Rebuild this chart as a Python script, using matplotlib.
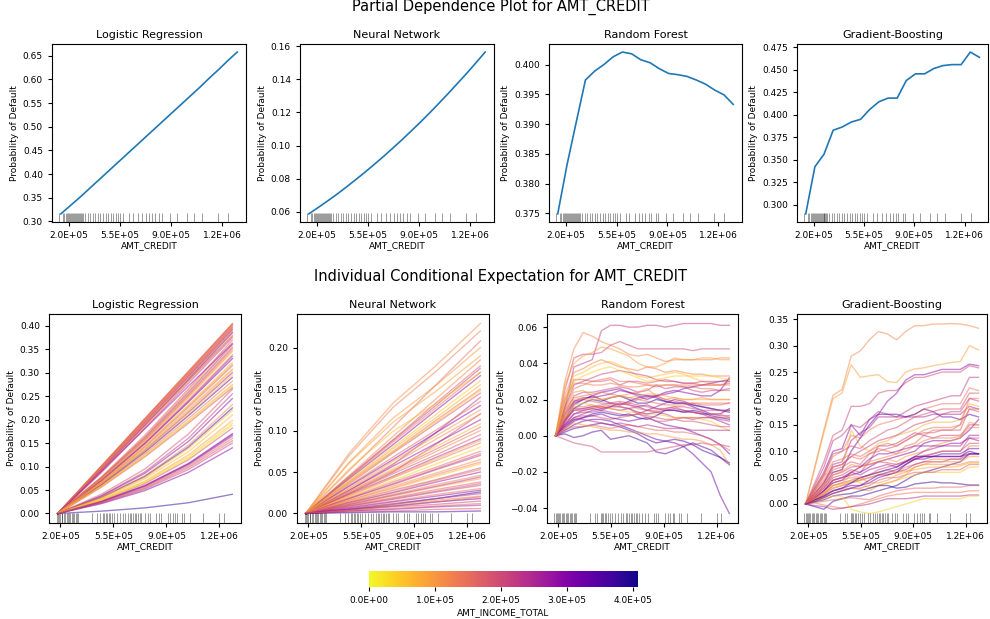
import numpy as np
import matplotlib
matplotlib.use("Agg")
import matplotlib.pyplot as plt
from matplotlib.colors import Normalize
from matplotlib.cm import ScalarMappable
from matplotlib.ticker import FixedLocator, FormatStrFormatter, MultipleLocator

# ---------------- data ----------------
models = ["Logistic Regression", "Neural Network", "Random Forest", "Gradient-Boosting"]

# PDP grid (AMT_CREDIT) and averaged predictions
pdp_grid = [145000, 208600, 272200, 335700, 399300, 462900, 526500, 590100, 653700, 717200,
            780800, 844400, 908000, 971600, 1035200, 1098700, 1162300, 1225900, 1289500, 1353000]
pdp_lr = [0.316, 0.333, 0.350, 0.368, 0.386, 0.404, 0.422, 0.440, 0.458, 0.476,
          0.494, 0.512, 0.530, 0.548, 0.566, 0.584, 0.603, 0.621, 0.640, 0.658]
pdp_nn = [0.0588, 0.0626, 0.0665, 0.0705, 0.0748, 0.0792, 0.0837, 0.0884, 0.0932, 0.0982,
          0.1033, 0.1086, 0.1140, 0.1196, 0.1254, 0.1313, 0.1374, 0.1435, 0.1499, 0.1564]
pdp_rf = [0.3749, 0.3831, 0.3903, 0.3974, 0.3989, 0.4000, 0.4013, 0.4021, 0.4018, 0.4008,
          0.4003, 0.3993, 0.3985, 0.3983, 0.3980, 0.3974, 0.3967, 0.3957, 0.3949, 0.3933]
pdp_gb = [0.2896, 0.3421, 0.3561, 0.3827, 0.3864, 0.3919, 0.3949, 0.4059, 0.4144, 0.4185,
          0.4185, 0.4381, 0.4455, 0.4455, 0.4514, 0.4547, 0.4558, 0.4558, 0.4698, 0.4639]

# rug of sampled AMT_CREDIT values (top row / bottom row)
rug_top = [131e3, 159e3, 169e3, 179e3, 186e3, 193e3, 200e3, 207e3, 214e3, 221e3, 227e3, 234e3,
           241e3, 248e3, 255e3, 262e3, 269e3, 275e3, 282e3, 289e3, 296e3, 310e3, 330e3, 344e3,
           365e3, 378e3, 399e3, 413e3, 433e3, 454e3, 468e3, 488e3, 502e3, 523e3, 536e3, 550e3,
           571e3, 612e3, 639e3, 674e3, 701e3, 728e3, 749e3, 770e3, 790e3, 818e3, 838e3, 893e3,
           941e3, 1010e3, 1058e3, 1113e3, 1223e3, 1291e3]
rug_bot = [174e3, 182e3, 191e3, 200e3, 207e3, 213e3, 222e3, 231e3, 240e3, 248e3, 257e3, 266e3,
           275e3, 284e3, 292e3, 301e3, 310e3, 319e3, 409e3, 442e3, 459e3, 481e3, 490e3, 499e3,
           508e3, 519e3, 530e3, 543e3, 556e3, 574e3, 595e3, 613e3, 628e3, 646e3, 657e3, 668e3,
           679e3, 690e3, 701e3, 712e3, 723e3, 732e3, 756e3, 778e3, 793e3, 833e3, 848e3, 864e3,
           907e3, 925e3, 943e3, 958e3, 969e3, 1002e3, 1013e3, 1057e3, 1144e3, 1250e3, 1281e3]

# ICE grids
ice_grid = [182000, 242700, 303400, 364100, 424700, 485400, 546100, 606800, 667500, 728200,
            788800, 849500, 910200, 970900, 1031600, 1092300, 1152900, 1213600, 1274300, 1335000]
ice_grid_smooth = [182000, 470250, 758500, 1046750, 1335000]

# Logistic regression ICE (centered), one row per sample
ice_lr = [
    [0, 0.101, 0.203, 0.304, 0.405], [0, 0.101, 0.202, 0.303, 0.404], [0, 0.101, 0.202, 0.302, 0.403],
    [0, 0.100, 0.201, 0.301, 0.402], [0, 0.099, 0.199, 0.299, 0.400], [0, 0.098, 0.197, 0.297, 0.398],
    [0, 0.096, 0.195, 0.294, 0.395], [0, 0.095, 0.193, 0.292, 0.392], [0, 0.093, 0.190, 0.288, 0.388],
    [0, 0.091, 0.188, 0.286, 0.385], [0, 0.089, 0.185, 0.282, 0.380], [0, 0.087, 0.182, 0.278, 0.375],
    [0, 0.078, 0.167, 0.266, 0.370], [0, 0.077, 0.164, 0.263, 0.365], [0, 0.076, 0.162, 0.259, 0.360],
    [0, 0.074, 0.158, 0.253, 0.352], [0, 0.072, 0.155, 0.248, 0.345], [0, 0.071, 0.152, 0.243, 0.338],
    [0, 0.069, 0.149, 0.238, 0.330], [0, 0.068, 0.145, 0.232, 0.322], [0, 0.066, 0.142, 0.227, 0.315],
    [0, 0.065, 0.139, 0.222, 0.308], [0, 0.063, 0.135, 0.216, 0.300], [0, 0.062, 0.133, 0.212, 0.295],
    [0, 0.061, 0.131, 0.209, 0.290], [0, 0.059, 0.127, 0.203, 0.282], [0, 0.058, 0.124, 0.198, 0.275],
    [0, 0.056, 0.121, 0.193, 0.268], [0, 0.038, 0.089, 0.161, 0.255], [0, 0.037, 0.086, 0.154, 0.245],
    [0, 0.035, 0.081, 0.146, 0.232], [0, 0.034, 0.079, 0.142, 0.225], [0, 0.032, 0.074, 0.132, 0.210],
    [0, 0.030, 0.069, 0.125, 0.198], [0, 0.029, 0.067, 0.121, 0.192], [0, 0.027, 0.064, 0.115, 0.182],
    [0, 0.026, 0.060, 0.107, 0.170], [0, 0.025, 0.058, 0.104, 0.165], [0, 0.024, 0.056, 0.101, 0.160],
    [0, 0.023, 0.054, 0.098, 0.155], [0, 0.021, 0.049, 0.088, 0.140], [0, 0.005, 0.012, 0.023, 0.041],
    [0, 0.099, 0.198, 0.297, 0.396], [0, 0.097, 0.194, 0.291, 0.388], [0, 0.094, 0.189, 0.284, 0.378],
    [0, 0.090, 0.181, 0.272, 0.362], [0, 0.075, 0.160, 0.255, 0.355], [0, 0.073, 0.156, 0.250, 0.348],
    [0, 0.070, 0.150, 0.240, 0.335], [0, 0.067, 0.144, 0.230, 0.318], [0, 0.064, 0.137, 0.219, 0.305],
    [0, 0.057, 0.122, 0.196, 0.272], [0, 0.041, 0.095, 0.170, 0.265], [0, 0.033, 0.077, 0.139, 0.220],
    [0, 0.028, 0.066, 0.118, 0.188], [0, 0.025, 0.059, 0.106, 0.168], [0, 0.022, 0.052, 0.094, 0.150],
]
inc_lr = [140e3, 160e3, 120e3, 175e3, 110e3, 195e3, 150e3, 280e3, 130e3, 300e3, 105e3, 220e3,
          180e3, 90e3, 250e3, 200e3, 80e3, 150e3, 320e3, 60e3, 170e3, 100e3, 260e3, 50e3,
          340e3, 140e3, 70e3, 190e3, 220e3, 290e3, 120e3, 360e3, 60e3, 90e3, 40e3, 200e3,
          310e3, 250e3, 160e3, 180e3, 300e3, 380e3,
          145e3, 125e3, 165e3, 270e3, 135e3, 115e3, 240e3, 95e3, 75e3, 55e3, 185e3, 65e3,
          30e3, 260e3, 210e3]

# Neural network ICE (centered)
ice_nn = [
    [0, 0.073, 0.133, 0.179, 0.229], [0, 0.070, 0.128, 0.172, 0.220], [0, 0.052, 0.104, 0.156, 0.208],
    [0, 0.061, 0.110, 0.148, 0.190], [0, 0.046, 0.093, 0.139, 0.185], [0, 0.045, 0.089, 0.134, 0.178],
    [0, 0.044, 0.088, 0.131, 0.175], [0, 0.054, 0.099, 0.133, 0.170], [0, 0.042, 0.083, 0.125, 0.166],
    [0, 0.040, 0.080, 0.120, 0.160], [0, 0.039, 0.078, 0.116, 0.155], [0, 0.038, 0.075, 0.113, 0.150],
    [0, 0.036, 0.073, 0.109, 0.145], [0, 0.028, 0.059, 0.098, 0.140], [0, 0.034, 0.068, 0.101, 0.135],
    [0, 0.033, 0.065, 0.098, 0.130], [0, 0.031, 0.063, 0.094, 0.125], [0, 0.024, 0.050, 0.084, 0.120],
    [0, 0.028, 0.057, 0.085, 0.113], [0, 0.027, 0.054, 0.081, 0.108], [0, 0.025, 0.050, 0.075, 0.100],
    [0, 0.024, 0.048, 0.071, 0.095], [0, 0.023, 0.045, 0.068, 0.090], [0, 0.021, 0.043, 0.064, 0.085],
    [0, 0.020, 0.040, 0.060, 0.080], [0, 0.019, 0.038, 0.056, 0.075], [0, 0.018, 0.035, 0.053, 0.070],
    [0, 0.016, 0.033, 0.049, 0.065], [0, 0.015, 0.030, 0.045, 0.060], [0, 0.014, 0.028, 0.041, 0.055],
    [0, 0.013, 0.025, 0.038, 0.050], [0, 0.012, 0.023, 0.035, 0.046], [0, 0.011, 0.021, 0.032, 0.042],
    [0, 0.010, 0.019, 0.029, 0.038], [0, 0.009, 0.017, 0.026, 0.034], [0, 0.008, 0.015, 0.023, 0.030],
    [0, 0.005, 0.011, 0.018, 0.026], [0, 0.006, 0.012, 0.018, 0.024], [0, 0.005, 0.011, 0.016, 0.021],
    [0, 0.005, 0.009, 0.014, 0.018], [0, 0.004, 0.008, 0.011, 0.015], [0, 0.003, 0.006, 0.009, 0.012],
    [0, 0.003, 0.005, 0.008, 0.010], [0, 0.002, 0.003, 0.005, 0.006], [0, 0.001, 0.002, 0.002, 0.003],
    [0, 0.062, 0.115, 0.155, 0.200], [0, 0.043, 0.086, 0.128, 0.170], [0, 0.037, 0.074, 0.111, 0.148],
    [0, 0.030, 0.060, 0.090, 0.120], [0, 0.026, 0.052, 0.078, 0.104], [0, 0.022, 0.044, 0.066, 0.088],
    [0, 0.018, 0.036, 0.054, 0.072], [0, 0.016, 0.031, 0.047, 0.062], [0, 0.013, 0.026, 0.040, 0.053],
    [0, 0.011, 0.022, 0.033, 0.044], [0, 0.009, 0.018, 0.027, 0.036], [0, 0.007, 0.014, 0.021, 0.028],
    [0, 0.004, 0.009, 0.014, 0.020],
]
inc_nn = [110e3, 130e3, 150e3, 90e3, 120e3, 170e3, 210e3, 60e3, 290e3, 50e3, 80e3, 140e3,
          190e3, 230e3, 160e3, 300e3, 100e3, 200e3, 280e3, 70e3, 120e3, 180e3, 250e3, 140e3,
          40e3, 160e3, 220e3, 110e3, 60e3, 190e3, 270e3, 130e3, 90e3, 170e3, 210e3, 150e3,
          380e3, 240e3, 120e3, 320e3, 200e3, 160e3, 260e3, 180e3, 360e3,
          100e3, 140e3, 60e3, 110e3, 170e3, 90e3, 200e3, 130e3, 150e3, 230e3, 190e3, 280e3,
          170e3]

# Random forest ICE (centered, in 1e-3 probability units)
ice_rf_milli = [
    [0, 15, 38, 40, 42, 58, 61, 61, 60, 60, 61, 61, 60, 61, 62, 62, 62, 62, 61, 61],
    [0, 30, 48, 57, 55, 52, 50, 48, 45, 44, 45, 43, 41, 42, 42, 42, 42, 42, 43, 43],
    [0, 25, 43, 45, 45, 46, 50, 52, 50, 48, 48, 48, 48, 48, 48, 47, 48, 48, 48, 48],
    [0, 28, 40, 44, 46, 49, 48, 46, 44, 40, 38, 38, 40, 43, 42, 42, 43, 43, 42, 42],
    [0, 22, 35, 37, 40, 42, 40, 38, 37, 36, 38, 37, 35, 36, 35, 34, 34, 33, 33, 33],
    [0, 20, 33, 35, 38, 40, 41, 39, 36, 33, 32, 33, 34, 35, 34, 32, 30, 29, 28, 30],
    [0, 18, 31, 31, 30, 30, 31, 28, 30, 30, 29, 30, 31, 30, 29, 29, 28, 28, 28, 29],
    [0, 15, 26, 28, 30, 31, 32, 30, 30, 29, 28, 27, 28, 28, 27, 27, 26, 26, 25, 25],
    [0, 10, 18, 20, 22, 24, 25, 26, 24, 23, 22, 22, 24, 25, 24, 23, 22, 22, 25, 32],
    [0, 12, 22, 24, 24, 25, 26, 27, 26, 24, 25, 28, 26, 27, 27, 25, 24, 25, 25, 26],
    [0, 8, 15, 18, 20, 19, 21, 22, 20, 18, 18, 20, 19, 18, 18, 17, 16, 15, 14, 13],
    [0, 9, 17, 20, 22, 20, 18, 17, 19, 21, 22, 21, 19, 18, 18, 16, 14, 12, 12, 15],
    [0, 14, 24, 25, 22, 20, 21, 22, 23, 24, 26, 22, 20, 21, 20, 20, 21, 20, 20, 20],
    [0, 10, 19, 20, 19, 18, 18, 17, 18, 20, 21, 22, 20, 19, 18, 18, 17, 17, 17, 18],
    [0, 6, 12, 14, 15, 14, 16, 18, 17, 16, 14, 16, 18, 20, 19, 17, 16, 15, 14, 14],
    [0, 8, 14, 15, 16, 16, 15, 14, 15, 16, 17, 15, 14, 14, 13, 13, 12, 12, 11, 11],
    [0, 9, 16, 16, 17, 15, 16, 18, 17, 15, 14, 14, 15, 16, 14, 13, 12, 12, 12, 10],
    [0, 7, 12, 13, 13, 14, 13, 12, 11, 12, 14, 13, 12, 10, 10, 9, 10, 10, 9, 8],
    [0, 10, 17, 18, 17, 16, 15, 14, 13, 13, 12, 12, 11, 10, 10, 10, 9, 8, 5, 3],
    [0, 4, 8, 10, 12, 13, 12, 11, 12, 10, 9, 11, 14, 14, 13, 14, 13, 11, 10, 9],
    [0, 6, 10, 11, 11, 10, 9, 10, 11, 12, 11, 10, 9, 9, 8, 8, 7, 6, 5, 5],
    [0, 5, 9, 10, 11, 12, 10, 9, 8, 9, 10, 8, 6, 5, 4, 2, 0, -2, -5, -10],
    [0, 2, 4, 5, 6, 7, 6, 5, 3, 1, -2, -4, -3, -2, -3, -5, -8, -10, -12, -15],
    [0, 3, 6, 8, 9, 9, 8, 6, 4, 2, 0, -2, -3, -4, -6, -10, -15, -20, -33, -43],
    [0, 1, -1, 0, 2, 3, -2, -1, 0, -2, -4, -9, -10, -8, -6, -4, -6, -8, -12, -16],
    [0, -2, -4, -5, -6, -9, -9, -9, -9, -9, -9, -8, -7, -6, -5, -5, -4, -5, -5, -6],
    [0, 3, 5, 5, 6, 5, 4, 5, 6, 5, 4, 3, 3, 2, 2, 1, 0, -2, -5, -8],
    [0, 5, 9, 9, 8, 7, 6, 7, 6, 5, 6, 5, 4, 4, 4, 3, 3, 3, 3, 3],
    [0, 4, 7, 6, 5, 4, 3, 3, 2, 2, 1, 1, 0, -1, -2, -2, -3, -5, -8, -16],
    [0, 12, 19, 21, 21, 22, 23, 25, 24, 22, 20, 22, 23, 24, 26, 27, 28, 29, 30, 31],
    [0, 20, 29, 29, 28, 28, 29, 28, 27, 27, 28, 28, 28, 28, 28, 28, 28, 28, 28, 28],
    [0, 16, 28, 30, 32, 34, 35, 36, 35, 34, 33, 31, 30, 30, 29, 29, 30, 30, 30, 30],
    [0, 12, 20, 21, 20, 20, 21, 22, 21, 22, 23, 23, 22, 21, 20, 20, 20, 20, 20, 20],
    [0, 8, 15, 15, 16, 17, 18, 19, 18, 17, 16, 15, 15, 16, 16, 15, 14, 14, 14, 14],
    [0, 6, 10, 12, 14, 15, 16, 16, 15, 13, 12, 13, 14, 15, 14, 13, 12, 10, 8, 6],
    [0, 14, 21, 22, 23, 24, 23, 22, 21, 20, 19, 18, 17, 17, 17, 18, 18, 18, 18, 18],
    [0, 18, 30, 33, 35, 37, 38, 36, 34, 32, 30, 31, 32, 33, 33, 33, 33, 33, 32, 31],
    [0, 9, 14, 14, 15, 16, 17, 16, 15, 12, 10, 8, 8, 9, 10, 10, 10, 10, 10, 10],
]
inc_rf = [220e3, 120e3, 200e3, 90e3, 130e3, 60e3, 180e3, 150e3, 300e3, 210e3, 380e3, 330e3,
          110e3, 170e3, 280e3, 250e3, 140e3, 230e3, 50e3, 370e3, 190e3, 310e3, 360e3, 320e3,
          350e3, 200e3, 160e3, 240e3, 100e3, 290e3, 130e3, 210e3, 80e3, 200e3, 260e3, 150e3,
          40e3, 180e3]

# Gradient boosting ICE (centered, in 1e-3 probability units)
ice_gb_milli = [
    [0, 70, 140, 206, 217, 280, 290, 311, 327, 322, 311, 327, 338, 338, 341, 341, 342, 341, 338, 333],
    [0, 68, 135, 200, 210, 264, 240, 243, 245, 232, 230, 250, 256, 258, 262, 265, 268, 270, 300, 292],
    [0, 40, 80, 130, 140, 185, 185, 190, 210, 215, 215, 230, 240, 240, 245, 250, 250, 250, 262, 258],
    [0, 30, 60, 100, 105, 150, 130, 160, 170, 195, 210, 235, 245, 245, 250, 255, 255, 255, 265, 262],
    [0, 35, 70, 120, 130, 150, 145, 160, 175, 170, 165, 175, 185, 190, 195, 200, 205, 205, 240, 240],
    [0, 25, 55, 90, 100, 130, 125, 140, 150, 155, 160, 165, 170, 180, 185, 190, 190, 190, 220, 215],
    [0, 20, 40, 75, 80, 120, 135, 145, 165, 165, 165, 165, 165, 165, 170, 170, 170, 170, 185, 180],
    [0, 30, 55, 60, 65, 140, 110, 100, 115, 120, 130, 135, 140, 150, 155, 155, 155, 160, 190, 185],
    [0, 15, 35, 60, 65, 100, 125, 150, 170, 170, 170, 165, 170, 180, 175, 165, 165, 160, 170, 165],
    [0, 20, 40, 65, 70, 80, 75, 95, 100, 105, 110, 120, 130, 135, 135, 140, 140, 140, 180, 175],
    [0, 25, 45, 70, 75, 90, 85, 95, 105, 100, 95, 110, 115, 130, 140, 140, 140, 150, 200, 200],
    [0, 15, 30, 50, 55, 65, 60, 80, 110, 110, 115, 125, 135, 130, 125, 130, 130, 130, 150, 150],
    [0, -5, -10, 5, 10, 15, 15, 20, 25, 30, 35, 45, 55, 60, 65, 70, 75, 80, 95, 95],
    [0, 10, 25, 45, 50, 55, 60, 70, 80, 85, 90, 95, 100, 115, 120, 120, 120, 125, 140, 160],
    [0, 15, 30, 45, 50, 60, 70, 75, 80, 85, 80, 90, 95, 100, 110, 115, 120, 125, 155, 150],
    [0, 10, 20, 35, 40, 45, 50, 55, 65, 70, 75, 80, 85, 90, 95, 100, 100, 100, 125, 125],
    [0, 12, 25, 40, 45, 50, 48, 55, 60, 65, 60, 70, 75, 80, 85, 85, 85, 85, 110, 110],
    [0, 8, 18, 30, 35, 40, 45, 50, 55, 55, 60, 65, 75, 80, 80, 80, 85, 85, 95, 95],
    [0, 10, 20, 30, 35, 45, 40, 30, 35, 40, 45, 50, 55, 60, 60, 60, 60, 60, 70, 70],
    [0, 8, 15, 25, 30, 35, 35, 40, 50, 55, 60, 75, 85, 90, 90, 90, 90, 90, 95, 95],
    [0, 5, 12, 20, 25, 30, 30, 35, 45, 50, 50, 55, 60, 60, 60, 65, 65, 65, 75, 75],
    [0, 6, 15, 25, 28, 30, 28, 25, 35, 40, 45, 55, 70, 75, 75, 75, 75, 75, 80, 80],
    [0, 4, 8, 15, 18, 20, 25, 30, 35, 35, 30, 32, 38, 40, 42, 40, 40, 38, 36, 36],
    [0, 3, 5, 8, 10, 12, 10, 8, 15, 20, 25, 28, 30, 30, 30, 32, 32, 32, 35, 35],
    [0, 2, -2, -5, -8, -5, 0, 5, 10, 15, 18, 20, 22, 22, 22, 22, 22, 22, 25, 25],
    [0, -3, -5, -10, -8, -5, -3, 0, 5, 10, 10, 10, 12, 15, 15, 15, 15, 15, 17, 17],
    [0, 5, 10, 15, 15, -10, -15, -18, -15, -10, -5, 0, 5, 10, 10, 10, 10, 10, 15, 15],
    [0, 10, 25, 45, 50, 60, 55, 65, 70, 75, 70, 80, 90, 100, 105, 110, 110, 110, 130, 130],
    [0, 15, 30, 55, 60, 70, 72, 75, 80, 78, 75, 82, 88, 92, 95, 100, 100, 100, 115, 115],
    [0, 18, 35, 55, 62, 75, 70, 80, 85, 90, 95, 100, 110, 120, 125, 125, 125, 128, 145, 145],
    [0, 12, 22, 35, 38, 42, 45, 50, 55, 58, 60, 62, 65, 68, 70, 70, 70, 72, 78, 78],
    [0, 12, 25, 40, 45, 60, 70, 85, 95, 95, 100, 105, 110, 110, 110, 110, 115, 115, 125, 120],
    [0, 20, 40, 70, 75, 90, 100, 110, 120, 125, 130, 140, 150, 155, 160, 170, 175, 175, 200, 195],
    [0, 8, 15, 25, 30, 40, 50, 55, 60, 65, 70, 80, 90, 90, 90, 90, 90, 90, 100, 95],
    [0, 25, 50, 80, 85, 95, 90, 100, 110, 115, 110, 120, 130, 140, 145, 145, 145, 150, 180, 180],
    [0, 30, 55, 95, 100, 110, 105, 120, 130, 140, 145, 155, 165, 170, 175, 180, 180, 180, 210, 210],
    [0, 10, 20, 35, 40, 55, 50, 40, 40, 45, 55, 60, 70, 75, 80, 80, 80, 80, 90, 90],
    [0, 5, 12, 20, 25, 30, 35, 45, 55, 60, 65, 75, 85, 85, 90, 95, 95, 95, 105, 105],
]
inc_gb = [120e3, 90e3, 200e3, 290e3, 220e3, 140e3, 250e3, 70e3, 330e3, 180e3, 150e3, 210e3,
          370e3, 300e3, 100e3, 190e3, 130e3, 230e3, 50e3, 310e3, 170e3, 110e3, 380e3, 160e3,
          140e3, 240e3, 40e3, 260e3, 200e3, 120e3, 80e3, 280e3, 210e3, 360e3, 150e3, 190e3,
          100e3, 320e3]

income_max = 407000
cbar_ticks = [0, 100000, 200000, 300000, 400000]
xticks = [200000, 550000, 900000, 1250000]

# ---------------- figure ----------------
fig = plt.figure(figsize=(9.9, 6.19), dpi=100)
cmap = plt.get_cmap("plasma_r")
norm = Normalize(0, income_max)

top_lefts = [0.0525, 0.3030, 0.5545, 0.8051]
top_widths = [0.196, 0.196, 0.195, 0.193]
bot_lefts = [0.0495, 0.3000, 0.5525, 0.8051]
bot_widths = [0.194, 0.194, 0.193, 0.192]

tick_fs = 6.5
label_fs = 6.5
title_fs = 8


def style_axis(ax, title, ystep):
    ax.set_title(title, fontsize=title_fs, pad=4)
    ax.xaxis.set_major_locator(FixedLocator(xticks))
    ax.xaxis.set_major_formatter(FormatStrFormatter("%.1E"))
    ax.yaxis.set_major_locator(MultipleLocator(ystep))
    ax.tick_params(labelsize=tick_fs, length=3, width=0.8)
    ax.set_xlabel("AMT_CREDIT", fontsize=label_fs, labelpad=1)
    ax.set_ylabel("Probability of Default", fontsize=label_fs, labelpad=3)


def add_rug(ax, values):
    ylim = ax.get_ylim()
    xlim = ax.get_xlim()
    ax.vlines(values, 0, 0.05, transform=ax.get_xaxis_transform(),
              colors="k", linewidth=0.5, alpha=0.55)
    ax.set_ylim(ylim)
    ax.set_xlim(xlim)


# top row: partial dependence
pdp_all = [pdp_lr, pdp_nn, pdp_rf, pdp_gb]
pdp_steps = [0.05, 0.02, 0.005, 0.025]
for i in range(4):
    ax = fig.add_axes([top_lefts[i], 0.6414, top_widths[i], 0.2876])
    ax.plot(pdp_grid, pdp_all[i], color="C0", linewidth=1.2)
    style_axis(ax, models[i], pdp_steps[i])
    add_rug(ax, rug_top)

# bottom row: ICE curves coloured by income
ice_sets = [
    (ice_grid_smooth, np.array(ice_lr), inc_lr, 0.05),
    (ice_grid_smooth, np.array(ice_nn), inc_nn, 0.05),
    (ice_grid, np.array(ice_rf_milli) / 1000.0, inc_rf, 0.02),
    (ice_grid, np.array(ice_gb_milli) / 1000.0, inc_gb, 0.05),
]
for i, (grid, curves, incomes, ystep) in enumerate(ice_sets):
    ax = fig.add_axes([bot_lefts[i], 0.1551, bot_widths[i], 0.3376])
    for curve, inc in zip(curves, incomes):
        ax.plot(grid, curve, color=cmap(norm(inc)), alpha=0.5, linewidth=1.0)
    style_axis(ax, models[i], ystep)
    add_rug(ax, rug_bot)

fig.text(0.506, 0.9887, "Partial Dependence Plot for AMT_CREDIT", ha="center", va="center", fontsize=10.5)
fig.text(0.506, 0.5525, "Individual Conditional Expectation for AMT_CREDIT", ha="center", va="center", fontsize=10.5)

cax = fig.add_axes([0.3727, 0.0517, 0.2717, 0.0258])
sm = ScalarMappable(norm=norm, cmap=cmap)
cb = fig.colorbar(sm, cax=cax, orientation="horizontal")
cb.outline.set_visible(False)
cb.set_ticks(cbar_ticks)
cb.ax.xaxis.set_major_formatter(FormatStrFormatter("%.1E"))
cb.ax.tick_params(labelsize=tick_fs, length=3, width=0.8)
cb.set_label("AMT_INCOME_TOTAL", fontsize=label_fs, labelpad=2)

fig.savefig("out.png", dpi=100)
